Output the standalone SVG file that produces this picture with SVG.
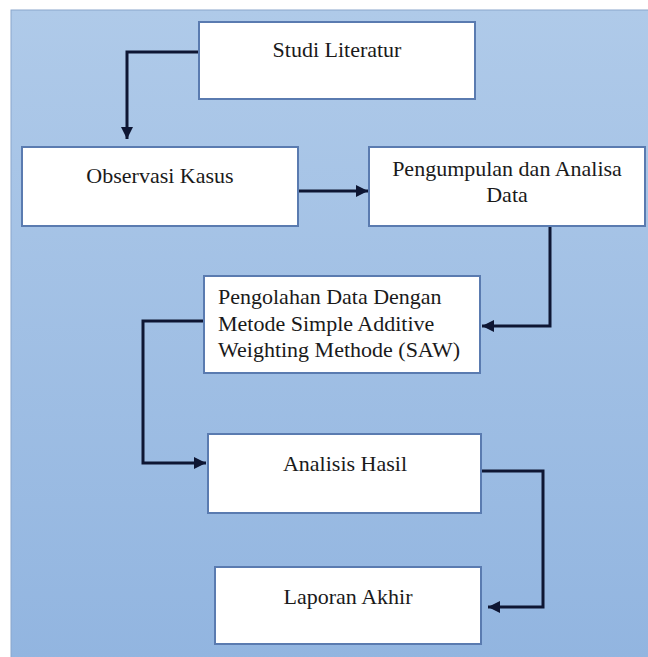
<svg xmlns="http://www.w3.org/2000/svg" width="648" height="657" viewBox="0 0 648 657">
<style>
.box{fill:#ffffff;stroke:#5a7bb0;stroke-width:2}
.lbl{font-family:'Liberation Serif','Times New Roman',serif;font-size:22px;fill:#1a1a1a}
.c{text-anchor:middle}
.con{fill:none;stroke:#0e1633;stroke-width:3;stroke-linejoin:miter}
</style>
<defs>
<linearGradient id="bg" x1="0" y1="0" x2="0" y2="1">
<stop offset="0" stop-color="#afcae9"/>
<stop offset="1" stop-color="#92b5e0"/>
</linearGradient>
<marker id="arr" markerUnits="userSpaceOnUse" markerWidth="14" markerHeight="14" viewBox="0 0 14 14" refX="13" refY="7" orient="auto">
<path d="M1,1 L13,7 L1,13 Z" fill="#0e1633"/>
</marker>
</defs>
<rect x="0" y="0" width="648" height="657" fill="#ffffff"/>
<rect x="11" y="10" width="640" height="650" fill="url(#bg)" stroke="#8aa6cc" stroke-width="1"/>
<g id="connectors">
<path class="con" d="M199,52 H127 V139" marker-end="url(#arr)"/>
<path class="con" d="M298,191 H368" marker-end="url(#arr)"/>
<path class="con" d="M550,226 V326 H482" marker-end="url(#arr)"/>
<path class="con" d="M204,321 H143 V463 H206" marker-end="url(#arr)"/>
<path class="con" d="M481,471 H543 V607 H488" marker-end="url(#arr)"/>
</g>
<g id="studi">
<rect class="box" x="199" y="22" width="276" height="77"/>
<text class="lbl c" x="337" y="57">Studi Literatur</text>
</g>
<g id="observasi">
<rect class="box" x="22" y="147" width="276" height="79"/>
<text class="lbl c" x="160" y="183">Observasi Kasus</text>
</g>
<g id="pengumpulan">
<rect class="box" x="369" y="147" width="276" height="79"/>
<text class="lbl c" x="507" y="176">Pengumpulan dan Analisa</text>
<text class="lbl c" x="507" y="202">Data</text>
</g>
<g id="pengolahan">
<rect class="box" x="204" y="276" width="276" height="97"/>
<text class="lbl" x="218" y="304">Pengolahan Data Dengan</text>
<text class="lbl" x="218" y="331">Metode Simple Additive</text>
<text class="lbl" x="218" y="357">Weighting Methode (SAW)</text>
</g>
<g id="analisis">
<rect class="box" x="208" y="434" width="273" height="79"/>
<text class="lbl c" x="345" y="471">Analisis Hasil</text>
</g>
<g id="laporan">
<rect class="box" x="215" y="567" width="266" height="77"/>
<text class="lbl c" x="348" y="604">Laporan Akhir</text>
</g>
</svg>
